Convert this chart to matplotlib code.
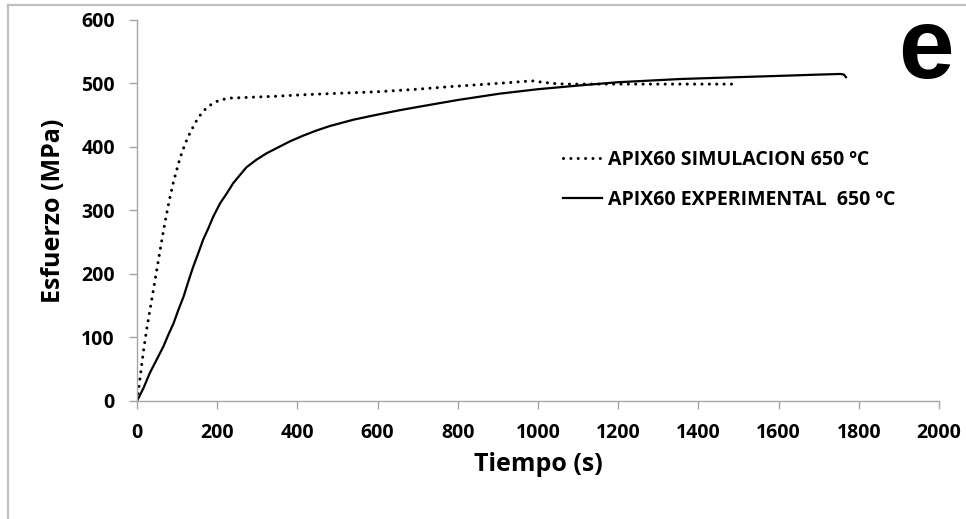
import matplotlib.pyplot as plt
from matplotlib.lines import Line2D

# Curva simulada (tiempo en s, esfuerzo en MPa)
t_sim = [0, 8, 16, 24, 32, 41, 49, 57, 66, 74, 82, 91, 107, 120, 132, 149, 160,
         174, 190, 207, 232, 273, 350, 406, 481, 600, 700, 780, 850, 920, 960,
         988, 1010, 1040, 1070, 1150, 1229, 1300, 1400, 1500]
s_sim = [0, 38, 78, 112, 142, 175, 205, 235, 268, 295, 320, 345, 382, 405, 422,
         442, 452, 462, 469, 474, 477, 478, 480, 482, 484, 487, 491, 495, 498,
         501, 503, 504, 502, 500, 499, 499, 499, 499, 499, 499]

# Curva experimental
t_exp = [0, 16, 32, 49, 66, 78, 91, 103, 116, 128, 140, 153, 165, 178, 190, 207,
         224, 240, 257, 273, 298, 323, 357, 382, 415, 448, 481, 540, 600, 656,
         700, 800, 905, 1000, 1105, 1200, 1354, 1500, 1603, 1700, 1755, 1763,
         1768]
s_exp = [0, 20, 44, 65, 86, 104, 122, 143, 164, 188, 211, 233, 254, 272, 290, 311,
         327, 343, 356, 368, 380, 390, 401, 409, 418, 426, 433, 443, 451, 458,
         463, 474, 484, 491, 497, 502, 507, 510, 512, 514, 515, 514, 510]

x_ticks = [0, 200, 400, 600, 800, 1000, 1200, 1400, 1600, 1800, 2000]
y_ticks = [0, 100, 200, 300, 400, 500, 600]

etiqueta_sim = 'APIX60 SIMULACION 650 ºC'
etiqueta_exp = 'APIX60 EXPERIMENTAL  650 ºC'

plt.rcParams['font.family'] = ['Open Sans', 'DejaVu Sans']
plt.rcParams['font.weight'] = 'bold'
gris = '#A6A6A6'

fig = plt.figure(figsize=(9.66, 5.19), dpi=100)
ax = fig.add_axes([0.1418, 0.2274, 0.8302, 0.7341])

ax.plot(t_sim, s_sim, color='black', linewidth=2.2, linestyle=(0, (0.01, 2.4)),
        dash_capstyle='round', label=etiqueta_sim)
ax.plot(t_exp, s_exp, color='black', linewidth=1.6, label=etiqueta_exp)

ax.set_xlim(0, 2000)
ax.set_ylim(0, 600)
ax.set_xticks(x_ticks)
ax.set_yticks(y_ticks)

for lado in ['top', 'right']:
    ax.spines[lado].set_visible(False)
for lado in ['left', 'bottom']:
    ax.spines[lado].set_color(gris)
    ax.spines[lado].set_linewidth(1.0)

ax.tick_params(axis='both', direction='out', length=6, width=1.0, color=gris,
               labelsize=14, pad=10)
for lbl in ax.get_xticklabels() + ax.get_yticklabels():
    lbl.set_fontweight('bold')

ax.set_xlabel('Tiempo (s)', fontsize=18, fontweight='bold', labelpad=6)
ax.set_ylabel('Esfuerzo (MPa)', fontsize=18, fontweight='bold', labelpad=11)

leg = ax.legend(loc='upper left', bbox_to_anchor=(0.51, 0.705), frameon=False,
                handlelength=2.0, handletextpad=0.3, labelspacing=1.05,
                prop={'weight': 'bold', 'size': 14})

# Letra del panel
fig.text(0.987, 0.8497, 'e', fontsize=72, fontweight='bold',
         family='Liberation Sans', ha='right', va='baseline')

# Marco gris (solo arriba e izquierda visibles)
fig.add_artist(Line2D([0.0085, 1.0], [0.990, 0.990], transform=fig.transFigure,
                      color='#C0C0C0', linewidth=1.6))
fig.add_artist(Line2D([0.0085, 0.0085], [0.0, 0.990], transform=fig.transFigure,
                      color='#C0C0C0', linewidth=1.6))

fig.savefig('out.png', dpi=100)
